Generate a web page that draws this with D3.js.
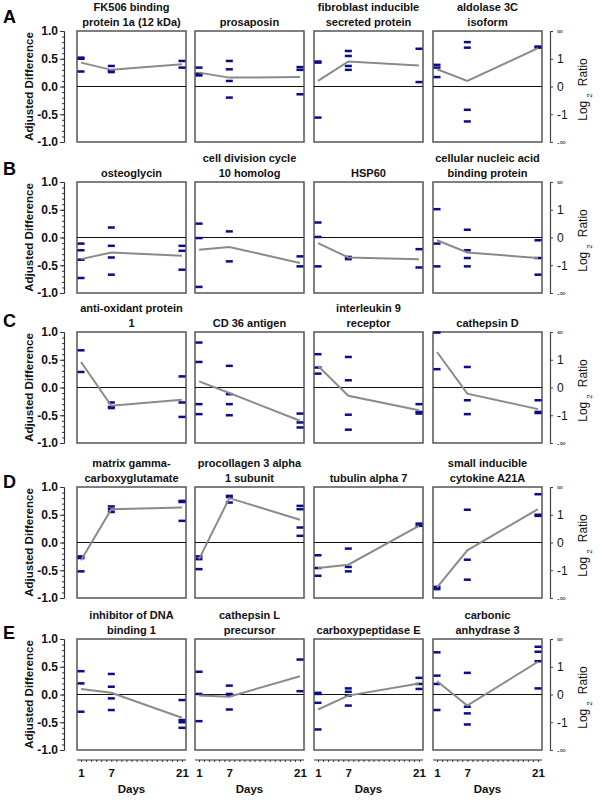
<!DOCTYPE html>
<html>
<head>
<meta charset="utf-8">
<script src="https://cdn.jsdelivr.net/npm/d3@7"></script>
<style>
  body { margin: 0; background: #fff; }
  svg { display: block; font-family: "Liberation Sans", Arial, Helvetica, sans-serif; }
</style>
</head>
<body>
<div id="chart"></div>
<script>
// ---- data ----
var rowLetters = ['A', 'B', 'C', 'D', 'E'];
var days = [1, 7, 21];

var titles = [
  ['FK506 binding', 'protein 1a (12 kDa)'], ['prosaposin'], ['fibroblast inducible', 'secreted protein'], ['aldolase 3C', 'isoform'],
  ['osteoglycin'], ['cell division cycle', '10 homolog'], ['HSP60'], ['cellular nucleic acid', 'binding protein'],
  ['anti-oxidant protein', '1'], ['CD 36 antigen'], ['interleukin 9', 'receptor'], ['cathepsin D'],
  ['matrix gamma-', 'carboxyglutamate'], ['procollagen 3 alpha', '1 subunit'], ['tubulin alpha 7'], ['small inducible', 'cytokine A21A'],
  ['inhibitor of DNA', 'binding 1'], ['cathepsin L', 'precursor'], ['carboxypeptidase E'], ['carbonic', 'anhydrase 3']
];

// replicate values per panel: [day 1, day 7, day 21]
var replicates = [
  [[0.52, 0.50, 0.27], [0.37, 0.28, 0.26], [0.46, 0.34]],
  [[0.34, 0.23, 0.20], [0.46, 0.31, 0.10, -0.20], [0.35, 0.30, -0.14]],
  [[0.45, 0.43, -0.56], [0.64, 0.55, 0.37, 0.30], [0.68, 0.08]],
  [[0.39, 0.34, 0.17], [0.80, 0.70, -0.42, -0.63], [0.72, 0.70]],

  [[-0.11, -0.23, -0.40, -0.73], [0.18, -0.15, -0.36, -0.67], [-0.15, -0.24, -0.58]],
  [[0.25, -0.01, -0.89], [0.11, -0.43], [-0.34, -0.52]],
  [[0.27, 0.01, -0.52], [-0.35, -0.39], [-0.21, -0.54]],
  [[0.51, -0.11, -0.52], [0.14, -0.23, -0.37, -0.52], [-0.05, -0.37, -0.67]],

  [[0.67, 0.28], [-0.27, -0.35, -0.37], [0.20, -0.27, -0.53]],
  [[0.81, 0.46, -0.30, -0.48], [0.39, -0.12, -0.30, -0.50], [-0.47, -0.63, -0.72]],
  [[0.60, 0.36, 0.25], [0.55, 0.13, -0.49, -0.76], [-0.30, -0.44, -0.47]],
  [[0.99, 0.33], [0.37, -0.23, -0.48], [-0.23, -0.44, -0.46]],

  [[-0.25, -0.28, -0.52], [0.65, 0.60, 0.55], [0.75, 0.73, 0.39]],
  [[-0.25, -0.30, -0.48], [0.84, 0.82, 0.72], [0.66, 0.60, 0.27, 0.12]],
  [[-0.23, -0.46, -0.60], [-0.11, -0.44, -0.52], [0.34, 0.30]],
  [[-0.80, -0.84], [0.59, -0.31, -0.67], [0.87, 0.50, 0.48]],

  [[0.42, 0.20, -0.31], [0.37, 0.14, -0.07, -0.28], [-0.10, -0.46, -0.50, -0.60]],
  [[0.41, 0.01, -0.48], [0.16, 0.01, -0.02, -0.27], [0.63, 0.06]],
  [[0.03, 0.01, -0.15, -0.63], [0.11, 0.05, -0.02, -0.20], [0.30, 0.19, 0.10]],
  [[0.76, 0.34, 0.19, -0.28], [0.39, -0.22, -0.34, -0.54], [0.86, 0.77, 0.60, 0.11]]
];

// grey trend line per panel: [day 1, day 7, day 21]
var trend = [
  [0.43, 0.30, 0.40], [0.25, 0.16, 0.17], [0.10, 0.45, 0.38], [0.31, 0.10, 0.69],
  [-0.39, -0.27, -0.33], [-0.22, -0.17, -0.46], [-0.10, -0.36, -0.39], [-0.05, -0.27, -0.37],
  [0.46, -0.33, -0.22], [0.11, -0.10, -0.60], [0.39, -0.15, -0.41], [0.64, -0.11, -0.39],
  [-0.32, 0.60, 0.63], [-0.30, 0.80, 0.41], [-0.46, -0.40, 0.30], [-0.81, -0.14, 0.60],
  [0.10, 0.03, -0.42], [-0.02, -0.04, 0.33], [-0.27, -0.02, 0.20], [0.24, -0.20, 0.59]
];

var leftTicks = [-1, -0.5, 0, 0.5, 1];
var rightTicks = [-2, -1, 0, 1, 2];
var rightTickLabels = ['-\u221e', '-1', '0', '1', '\u221e'];

// ---- layout ----
var colLeft = [77, 195, 314, 433];
var rowTop = [31, 182, 332, 487, 639];
var letterY = [23, 175, 327, 488, 639];
var pw = 109, ph = 111;
var dashColor = '#0c0c88';

var svg = d3.select('#chart')
  .append('svg')
    .attr('width', 600)
    .attr('height', 800);

svg.append('rect').attr('width', 600).attr('height', 800).attr('fill', '#fff');

rowTop.forEach(function (top, r) {
  var y = d3.scaleLinear().domain([-1, 1]).range([top + ph, top]);
  var yR = d3.scaleLinear().domain([-2, 2]).range([top + ph, top]);

  // row letter
  svg.append('text')
    .attr('x', 3).attr('y', letterY[r])
    .style('font-size', '18px').style('font-weight', 'bold')
    .text(rowLetters[r]);

  // left axis (minor + major)
  svg.append('g')
    .attr('transform', 'translate(64,0)')
    .call(d3.axisLeft(y).tickValues(d3.range(-10, 11).map(function (k) { return k / 10; }))
      .tickSize(2).tickSizeOuter(0).tickFormat(''))
    .call(function (g) { g.selectAll('line,path').attr('stroke', '#333'); });

  var la = svg.append('g')
    .attr('transform', 'translate(64,0)')
    .call(d3.axisLeft(y).tickValues(leftTicks).tickSize(4).tickSizeOuter(0)
      .tickPadding(2).tickFormat(function (d) { return d.toFixed(1); }));
  la.select('.domain').attr('stroke', '#333').attr('stroke-width', 1.2);
  la.selectAll('line').attr('stroke', '#333');
  la.selectAll('text')
    .style('font-family', '"Liberation Sans", Arial, sans-serif')
    .style('font-size', '12px').style('font-weight', 'bold').attr('fill', '#111');

  svg.append('text')
    .attr('transform', 'translate(33,' + (top + ph / 2) + ') rotate(-90)')
    .attr('text-anchor', 'middle')
    .style('font-size', '11.5px').style('font-weight', 'bold').attr('fill', '#111')
    .text('Adjusted Difference');

  // right axis (log2 ratio)
  var ra = svg.append('g')
    .attr('transform', 'translate(550,0)')
    .call(d3.axisRight(yR).tickValues(rightTicks).tickSize(3).tickSizeOuter(0)
      .tickPadding(4).tickFormat(function (d, i) { return rightTickLabels[i]; }));
  ra.select('.domain').attr('stroke', '#444').attr('stroke-width', 1.2);
  ra.selectAll('line').attr('stroke', '#444');
  ra.selectAll('text')
    .style('font-family', '"Liberation Sans", Arial, sans-serif')
    .style('font-size', function (d) { return Math.abs(d) === 2 ? '8px' : '12px'; })
    .attr('fill', '#111');

  var lr = svg.append('text')
    .attr('transform', 'translate(587,' + (top + ph / 2 + 3) + ') rotate(-90)')
    .attr('text-anchor', 'middle')
    .style('font-size', '12px').attr('fill', '#111');
  lr.append('tspan').text('Log');
  lr.append('tspan').attr('dx', 3).attr('dy', 5).style('font-size', '8px').text('2');
  lr.append('tspan').attr('dx', 7).attr('dy', -5).text('Ratio');

  colLeft.forEach(function (left, c) {
    var p = r * 4 + c;
    var x = d3.scaleLinear().domain([0.2, 21.8]).range([left, left + pw]);
    var g = svg.append('g').classed('panel', true);

    // title, bottom-aligned above the box
    var lines = titles[p];
    lines.forEach(function (t, i) {
      g.append('text')
        .attr('x', left + pw / 2)
        .attr('y', top - 5 - (lines.length - 1 - i) * 15)
        .attr('text-anchor', 'middle')
        .style('font-size', '11px').style('font-weight', 'bold').attr('fill', '#111')
        .text(t);
    });

    g.append('rect')
      .attr('x', left).attr('y', top)
      .attr('width', pw).attr('height', ph)
      .attr('fill', 'none').attr('stroke', '#555').attr('stroke-width', 1.5);

    g.append('line')
      .attr('x1', left).attr('x2', left + pw)
      .attr('y1', y(0)).attr('y2', y(0))
      .attr('stroke', '#111').attr('stroke-width', 1);

    var pts = [];
    replicates[p].forEach(function (vals, k) {
      vals.forEach(function (v) { pts.push({ day: days[k], v: v }); });
    });

    g.selectAll('rect.rep')
      .data(pts)
      .enter().append('rect')
        .classed('rep', true)
        .attr('x', function (d) { return x(d.day) - 3.5; })
        .attr('y', function (d) { return y(d.v) - 1.25; })
        .attr('width', 7)
        .attr('height', 2.5)
        .attr('fill', dashColor);

    g.append('path')
      .datum(trend[p])
      .attr('d', d3.line()
        .x(function (d, i) { return x(days[i]); })
        .y(function (d) { return y(d); }))
      .attr('fill', 'none')
      .attr('stroke', '#8a8a8a')
      .attr('stroke-width', 2);

    // day axis under the last row
    if (r === rowTop.length - 1) {
      var xa = svg.append('g')
        .attr('transform', 'translate(0,760)')
        .call(d3.axisBottom(x).tickValues(d3.range(1, 22)).tickSize(2).tickSizeOuter(0)
          .tickPadding(7).tickFormat(function (d) { return days.indexOf(d) >= 0 ? d : ''; }));
      xa.select('.domain').attr('d', 'M' + left + ',0H' + (left + pw)).attr('stroke', '#333');
      xa.selectAll('line').attr('stroke', '#333');
      xa.selectAll('text')
        .style('font-family', '"Liberation Sans", Arial, sans-serif')
        .style('font-size', '11.5px').style('font-weight', 'bold').attr('fill', '#111');

      svg.append('text')
        .attr('x', left + pw / 2).attr('y', 793)
        .attr('text-anchor', 'middle')
        .style('font-size', '11.5px').style('font-weight', 'bold').attr('fill', '#111')
        .text('Days');
    }
  });
});
</script>
</body>
</html>
